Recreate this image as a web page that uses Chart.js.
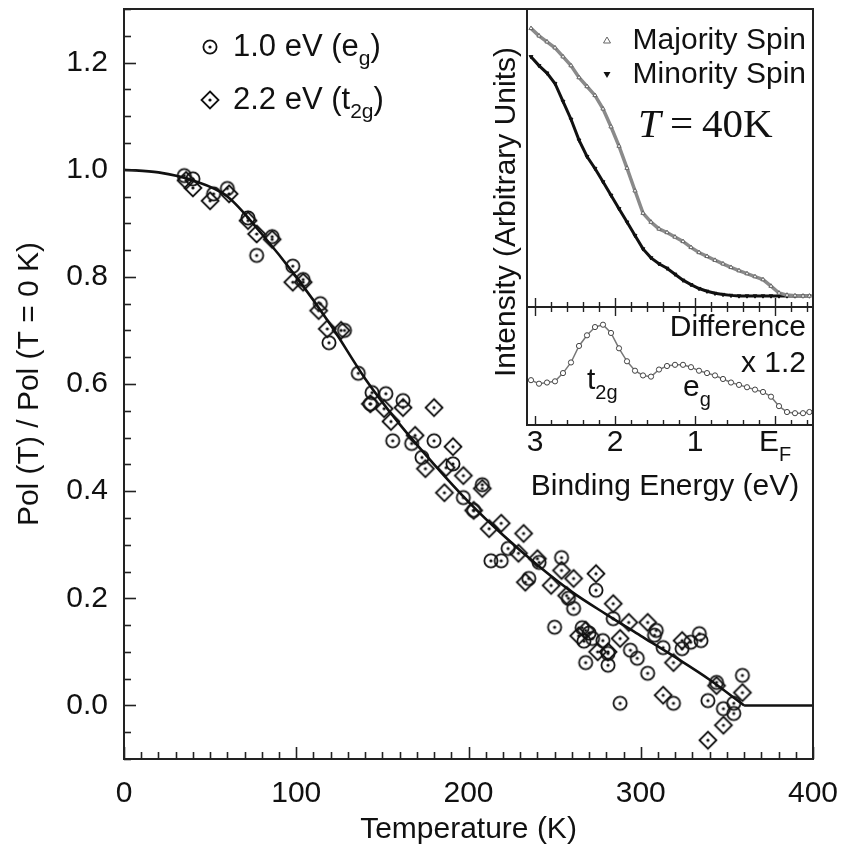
<!DOCTYPE html>
<html lang="en">
<head>
<meta charset="UTF-8">
<title>Polarization vs Temperature</title>
<style>
  body { margin: 0; background: #fff; }
  #wrap { position: relative; width: 844px; height: 848px; }
  canvas { position: absolute; }
  #main { left: 0; top: 0; }
  #upper { left: 517px; top: 0; }
  #lower { left: 500px; top: 297px; }
</style>
</head>
<body>
<div id="wrap">
  <canvas id="main" width="844" height="848"></canvas>
  <canvas id="upper" width="306" height="317"></canvas>
  <canvas id="lower" width="344" height="215"></canvas>
</div>
<script src="https://cdn.jsdelivr.net/npm/chart.js"></script>
<script>
// ---- main panel data ----
const tempFit = [0, 20, 40, 60, 80, 100, 120, 140, 160, 180, 200, 220, 240, 260, 280, 300, 320, 340, 360];
const polFit = [1.0, 0.995, 0.98, 0.95, 0.88, 0.80, 0.71, 0.61, 0.525, 0.45, 0.38, 0.318, 0.262, 0.212, 0.17, 0.13, 0.09, 0.048, 0.0];
const tailTemp = [360, 400];
const tailPol = [0, 0];

const egTemp = [35, 40, 52, 60, 72, 77, 86, 98, 104, 114, 119, 128, 136, 144, 152, 143, 162, 156, 167, 180,
  173, 191, 197, 208, 203, 223, 213, 219, 241, 235, 254, 258, 261, 274, 284, 250, 266, 270, 267, 272,
  278, 268, 281, 281, 288, 294, 298, 304, 309, 308, 313, 319, 324, 329, 334, 335, 344, 339, 348, 354, 359, 354];
const egPol = [0.989, 0.983, 0.955, 0.965, 0.91, 0.84, 0.875, 0.82, 0.795, 0.75, 0.677, 0.70, 0.62, 0.584, 0.582, 0.563, 0.569, 0.494, 0.489, 0.494,
  0.463, 0.451, 0.388, 0.412, 0.364, 0.293, 0.27, 0.27, 0.267, 0.237, 0.276, 0.2, 0.181, 0.215, 0.162, 0.146, 0.145, 0.135, 0.12, 0.125,
  0.121, 0.08, 0.075, 0.097, 0.004, 0.103, 0.088, 0.06, 0.14, 0.131, 0.108, 0.004, 0.106, 0.118, 0.134, 0.121, 0.043, 0.009, -0.006, -0.015, 0.056, 0.004];

const t2gTemp = [36, 40, 50, 61, 72, 77, 86, 98, 104, 113, 118, 126, 143, 151, 155, 162, 180, 169, 191, 175,
  187, 197, 208, 186, 203, 212, 219, 232, 229, 240, 254, 248, 261, 274, 257, 284, 293, 288, 275, 304,
  319, 313, 324, 344, 348, 339, 359, 268, 264, 281, 233];
const t2gPol = [0.98, 0.966, 0.942, 0.955, 0.905, 0.88, 0.87, 0.79, 0.79, 0.737, 0.703, 0.70, 0.563, 0.554, 0.53, 0.556, 0.556, 0.504, 0.483, 0.442,
  0.444, 0.429, 0.405, 0.397, 0.364, 0.33, 0.34, 0.321, 0.284, 0.274, 0.252, 0.224, 0.237, 0.246, 0.205, 0.19, 0.155, 0.125, 0.1, 0.155,
  0.08, 0.019, 0.121, 0.037, -0.037, -0.065, 0.024, 0.14, 0.13, 0.1, 0.23];

const xTickValues = [0, 100, 200, 300, 400];
const yTickValues = [0, 0.2, 0.4, 0.6, 0.8, 1.0, 1.2];
const seriesLabels = ['1.0 eV (e_g)', '2.2 eV (t_{2g})'];

// ---- inset data (binding energy in eV, intensity in panel units) ----
const spinEnergy = [3.05, 2.95, 2.85, 2.75, 2.65, 2.55, 2.45, 2.35, 2.25, 2.15, 2.05, 1.95, 1.85, 1.75, 1.65, 1.55, 1.45, 1.35,
  1.25, 1.15, 1.05, 0.95, 0.85, 0.75, 0.65, 0.55, 0.45, 0.35, 0.25, 0.15, 0.05, -0.05, -0.15, -0.25, -0.35, -0.43];
const majoritySpin = [0.935, 0.91, 0.89, 0.87, 0.84, 0.81, 0.77, 0.74, 0.71, 0.665, 0.605, 0.54, 0.466, 0.39, 0.315, 0.285, 0.262, 0.25,
  0.235, 0.22, 0.2, 0.183, 0.17, 0.157, 0.145, 0.133, 0.122, 0.112, 0.102, 0.092, 0.07, 0.047, 0.04, 0.038, 0.037, 0.037];
const minoritySpin = [0.84, 0.81, 0.785, 0.75, 0.69, 0.63, 0.56, 0.505, 0.465, 0.42, 0.375, 0.33, 0.285, 0.24, 0.195, 0.165, 0.145, 0.13,
  0.11, 0.09, 0.075, 0.062, 0.053, 0.046, 0.042, 0.039, 0.037, 0.037, 0.037, 0.037, 0.037, 0.037, 0.037, 0.037, 0.037, 0.037];
const difference = [0.38, 0.35, 0.36, 0.37, 0.44, 0.53, 0.67, 0.76, 0.83, 0.85, 0.78, 0.65, 0.54, 0.46, 0.42, 0.41, 0.47, 0.5,
  0.51, 0.51, 0.49, 0.46, 0.44, 0.42, 0.39, 0.36, 0.34, 0.32, 0.3, 0.28, 0.24, 0.16, 0.11, 0.1, 0.1, 0.11];
const insetTickValues = [3, 2, 1, 0];
const insetTickLabels = ['3', '2', '1', 'E_F'];

const SANS = '"Liberation Sans", Arial, sans-serif';
const SERIF = '"Liberation Serif", "Times New Roman", serif';
const INK = '#111';

function pairs(xs, ys) { return xs.map((x, i) => ({ x: x, y: ys[i] })); }

// circle / diamond with a dot in the middle
function markerCanvas(kind) {
  const c = document.createElement('canvas');
  c.width = 22; c.height = 22;
  const g = c.getContext('2d');
  g.strokeStyle = INK; g.fillStyle = INK; g.lineWidth = 1.8;
  g.beginPath();
  if (kind === 'circle') g.arc(11, 11, 6.6, 0, Math.PI * 2);
  else { g.moveTo(11, 2.5); g.lineTo(19.5, 11); g.lineTo(11, 19.5); g.lineTo(2.5, 11); g.closePath(); }
  g.stroke();
  g.beginPath(); g.arc(11, 11, 1.6, 0, Math.PI * 2); g.fill();
  return c;
}
const circleImg = markerCanvas('circle');
const diamondImg = markerCanvas('diamond');

// text with _x or _{xy} subscripts
function drawRich(ctx, str, x, y, size, align, family) {
  family = family || SANS;
  const parts = [];
  const re = /_\{([^}]*)\}|_(.)|([^_]+)/g;
  let m;
  while ((m = re.exec(str))) {
    if (m[3] !== undefined) parts.push({ t: m[3], sub: false });
    else parts.push({ t: m[1] !== undefined ? m[1] : m[2], sub: true });
  }
  const subSize = Math.round(size * 0.68);
  let w = 0;
  parts.forEach(p => { ctx.font = (p.sub ? subSize : size) + 'px ' + family; p.w = ctx.measureText(p.t).width; w += p.w; });
  let cx = align === 'right' ? x - w : align === 'center' ? x - w / 2 : x;
  ctx.save();
  ctx.textBaseline = 'middle'; ctx.textAlign = 'left'; ctx.fillStyle = INK;
  parts.forEach(p => {
    ctx.font = (p.sub ? subSize : size) + 'px ' + family;
    ctx.fillText(p.t, cx, p.sub ? y + size * 0.4 : y);
    cx += p.w;
  });
  ctx.restore();
}

function inwardTicks(ctx, scale, from, to, step, majorEvery, edge, dir, majorLen, minorLen) {
  const n = Math.round((to - from) / step);
  const horiz = scale.isHorizontal();
  for (let i = 0; i <= n; i++) {
    const v = from + i * step;
    const major = Math.abs(v / majorEvery - Math.round(v / majorEvery)) < 1e-6;
    const len = major ? majorLen : minorLen;
    const p = Math.round(scale.getPixelForValue(v)) + 0.5;
    ctx.beginPath();
    if (horiz) { ctx.moveTo(p, edge); ctx.lineTo(p, edge + dir * len); }
    else { ctx.moveTo(edge, p); ctx.lineTo(edge + dir * len, p); }
    ctx.stroke();
  }
}

function frame(ctx, a, lw) {
  ctx.save();
  ctx.strokeStyle = '#222'; ctx.lineWidth = lw;
  ctx.strokeRect(a.left, a.top, a.right - a.left, a.bottom - a.top);
  ctx.restore();
}

function noPad(s) { s.paddingTop = 0; s.paddingBottom = 0; s.paddingLeft = 0; s.paddingRight = 0; }

const mainDecor = {
  id: 'mainDecor',
  afterDraw(chart) {
    const ctx = chart.ctx, a = chart.chartArea;
    frame(ctx, a, 2);
    ctx.save();
    ctx.strokeStyle = '#222'; ctx.lineWidth = 1.6;
    inwardTicks(ctx, chart.scales.x, 0, 400, 10, 100, a.bottom, -1, 12, 7);
    inwardTicks(ctx, chart.scales.y, -0.1, 1.3, 0.05, 0.2, a.left, 1, 12, 7);
    ctx.restore();
    // legend
    ctx.drawImage(circleImg, 210 - 11, 47 - 11);
    ctx.drawImage(diamondImg, 210 - 11, 100 - 11);
    drawRich(ctx, seriesLabels[0], 233, 47, 31, 'left');
    drawRich(ctx, seriesLabels[1], 233, 100, 31, 'left');
    // inset y title (spans both inset panels)
    ctx.save();
    ctx.translate(507, 212);
    ctx.rotate(-Math.PI / 2);
    drawRich(ctx, 'Intensity (Arbitrary Units)', 0, 0, 30, 'center');
    ctx.restore();
  }
};

new Chart(document.getElementById('main'), {
  type: 'scatter',
  data: {
    datasets: [
      { label: seriesLabels[0], data: pairs(egTemp, egPol), pointStyle: circleImg, pointRadius: 8 },
      { label: seriesLabels[1], data: pairs(t2gTemp, t2gPol), pointStyle: diamondImg, pointRadius: 8 },
      { label: 'fit', data: pairs(tempFit, polFit), showLine: true, borderColor: INK, borderWidth: 2.6,
        pointRadius: 0, cubicInterpolationMode: 'monotone' },
      { label: 'fit tail', data: pairs(tailTemp, tailPol), showLine: true, borderColor: INK, borderWidth: 2.6, pointRadius: 0 }
    ]
  },
  options: {
    responsive: false, animation: false, events: [],
    layout: { padding: { top: 9, right: 31, left: 0, bottom: 0 } },
    plugins: { legend: { display: false }, tooltip: { enabled: false } },
    scales: {
      x: {
        type: 'linear', min: 0, max: 400,
        afterBuildTicks: s => { s.ticks = xTickValues.map(v => ({ value: v })); },
        afterFit: s => { s.height = 89; noPad(s); },
        grid: { display: false, drawTicks: false }, border: { display: false },
        ticks: { font: { family: SANS, size: 30 }, color: INK, padding: 17, maxRotation: 0 },
        title: { display: true, text: 'Temperature (K)', color: INK, font: { family: SANS, size: 30 }, padding: { top: 0, bottom: 0 } }
      },
      y: {
        type: 'linear', min: -0.1, max: 1.3,
        afterBuildTicks: s => { s.ticks = yTickValues.map(v => ({ value: v })); },
        afterFit: s => { s.width = 124; noPad(s); },
        grid: { display: false, drawTicks: false }, border: { display: false },
        ticks: { font: { family: SANS, size: 30 }, color: INK, padding: 16, callback: v => Number(v).toFixed(1) },
        title: { display: true, text: 'Pol (T) / Pol (T = 0 K)', color: INK, font: { family: SANS, size: 30 }, padding: { top: 12, bottom: 0 } }
      }
    }
  },
  plugins: [mainDecor]
});

// ---- inset, upper panel: spin-resolved spectra ----
const insetX = { type: 'linear', min: -0.475, max: 3.1, reverse: true, display: false };

new Chart(document.getElementById('upper'), {
  type: 'scatter',
  data: {
    datasets: [
      { label: 'Majority Spin', data: pairs(spinEnergy, majoritySpin), showLine: true, borderColor: '#8a8a8a', borderWidth: 3.5,
        pointStyle: 'triangle', pointRadius: 2.4, pointBorderColor: '#666', pointBackgroundColor: '#fff', pointBorderWidth: 1 },
      { label: 'Minority Spin', data: pairs(spinEnergy, minoritySpin), showLine: true, borderColor: INK, borderWidth: 3,
        pointStyle: 'triangle', rotation: 180, pointRadius: 2.2, pointBorderColor: INK, pointBackgroundColor: INK, pointBorderWidth: 1 }
    ]
  },
  options: {
    responsive: false, animation: false, events: [],
    layout: { padding: { top: 9, right: 10, left: 10, bottom: 10 } },
    plugins: { legend: { display: false }, tooltip: { enabled: false } },
    scales: { x: insetX, y: { min: 0, max: 1, display: false } }
  },
  plugins: [{
    id: 'upperDecor',
    beforeDraw(chart) {
      const a = chart.chartArea, ctx = chart.ctx;
      ctx.save(); ctx.fillStyle = '#fff'; ctx.fillRect(a.left, a.top, a.right - a.left, a.bottom - a.top); ctx.restore();
    },
    afterDraw(chart) {
      const ctx = chart.ctx, a = chart.chartArea, ox = 517, oy = 0;
      frame(ctx, a, 2);
      ctx.save(); ctx.strokeStyle = '#222'; ctx.lineWidth = 1.4;
      inwardTicks(ctx, chart.scales.x, -0.4, 3.0, 0.2, 1, a.bottom, -1, 9, 5);
      ctx.restore();
      // legend markers
      ctx.save();
      ctx.strokeStyle = '#666'; ctx.fillStyle = '#fff'; ctx.lineWidth = 1;
      ctx.beginPath(); ctx.moveTo(607 - ox, 37 - oy); ctx.lineTo(610.5 - ox, 43 - oy); ctx.lineTo(603.5 - ox, 43 - oy); ctx.closePath();
      ctx.fill(); ctx.stroke();
      ctx.fillStyle = INK;
      ctx.beginPath(); ctx.moveTo(603.5 - ox, 72 - oy); ctx.lineTo(610.5 - ox, 72 - oy); ctx.lineTo(607 - ox, 78 - oy); ctx.closePath();
      ctx.fill();
      ctx.restore();
      drawRich(ctx, 'Majority Spin', 806 - ox, 41 - oy, 30, 'right');
      drawRich(ctx, 'Minority Spin', 806 - ox, 75 - oy, 30, 'right');
      // T = 40K
      ctx.save();
      ctx.fillStyle = INK; ctx.textBaseline = 'middle'; ctx.textAlign = 'left';
      ctx.font = 'italic 41px ' + SERIF;
      ctx.fillText('T', 638 - ox, 126 - oy);
      ctx.font = '41px ' + SERIF;
      ctx.fillText('=', 670 - ox, 126 - oy);
      ctx.fillText('40K', 702 - ox, 126 - oy);
      ctx.restore();
    }
  }]
});

// ---- inset, lower panel: difference ----
new Chart(document.getElementById('lower'), {
  type: 'scatter',
  data: {
    datasets: [
      { label: 'Difference x 1.2', data: pairs(spinEnergy, difference), showLine: true, borderColor: '#777', borderWidth: 1.5,
        pointStyle: 'circle', pointRadius: 2.6, pointBorderColor: '#444', pointBackgroundColor: '#fff', pointBorderWidth: 1 }
    ]
  },
  options: {
    responsive: false, animation: false, events: [],
    layout: { padding: { top: 10, right: 31, left: 27, bottom: 87 } },
    plugins: { legend: { display: false }, tooltip: { enabled: false } },
    scales: { x: insetX, y: { min: 0, max: 1, display: false } }
  },
  plugins: [{
    id: 'lowerDecor',
    beforeDraw(chart) {
      const a = chart.chartArea, ctx = chart.ctx;
      ctx.save(); ctx.fillStyle = '#fff'; ctx.fillRect(a.left, a.top, a.right - a.left, a.bottom - a.top); ctx.restore();
    },
    afterDraw(chart) {
      const ctx = chart.ctx, a = chart.chartArea, ox = 500, oy = 297, sx = chart.scales.x;
      frame(ctx, a, 2);
      ctx.save(); ctx.strokeStyle = '#222'; ctx.lineWidth = 1.4;
      inwardTicks(ctx, sx, -0.4, 3.0, 0.2, 1, a.top, 1, 9, 5);
      inwardTicks(ctx, sx, -0.4, 3.0, 0.2, 1, a.bottom, -1, 9, 5);
      ctx.restore();
      drawRich(ctx, 'Difference', 806 - ox, 328 - oy, 30, 'right');
      drawRich(ctx, 'x 1.2', 806 - ox, 364 - oy, 30, 'right');
      drawRich(ctx, 't_{2g}', 587 - ox, 381 - oy, 30, 'left');
      drawRich(ctx, 'e_g', 683 - ox, 388 - oy, 30, 'left');
      insetTickValues.forEach((v, i) => {
        drawRich(ctx, insetTickLabels[i], sx.getPixelForValue(v), 443 - oy, 30, 'center');
      });
      drawRich(ctx, 'Binding Energy (eV)', 665 - ox, 487 - oy, 30, 'center');
    }
  }]
});
</script>
</body>
</html>
